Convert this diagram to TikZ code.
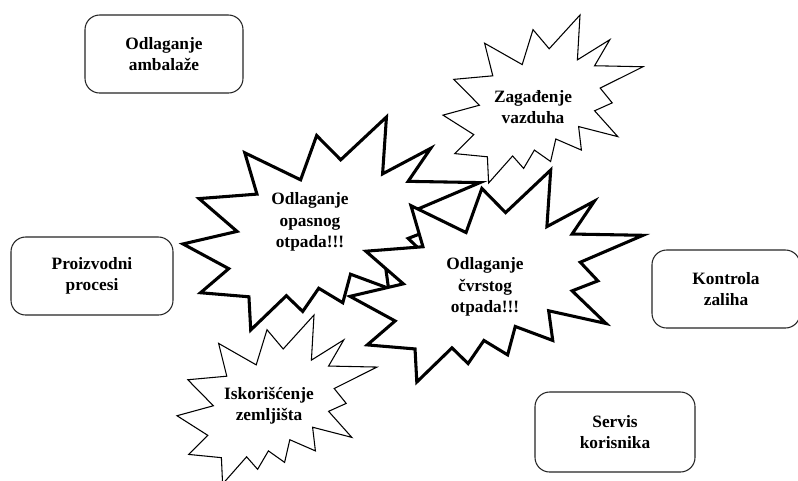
\documentclass[tikz,border=0pt]{standalone}
\usepackage{fontspec}
\setmainfont{Liberation Serif}
\begin{document}
\begin{tikzpicture}[x=0.75pt,y=-0.75pt,
  seal/.pic={\path[pic actions] (0.531,0.201) -- (0.685,0) -- (0.672,0.267) -- (0.834,0.147) -- (0.758,0.302) -- (1,0.308) -- (0.786,0.435) -- (0.846,0.523) -- (0.758,0.570) -- (0.874,0.724) -- (0.678,0.664) -- (0.692,0.804) -- (0.564,0.738) -- (0.538,0.872) -- (0.457,0.804) -- (0.403,0.913) -- (0.348,0.839) -- (0.228,1) -- (0.222,0.844) -- (0.059,0.825) -- (0.154,0.712) -- (0,0.596) -- (0.182,0.537) -- (0.054,0.383) -- (0.249,0.362) -- (0.208,0.168) -- (0.396,0.295) -- (0.450,0.087) -- cycle;},
  thinstar/.style={draw=black, fill=white, line width=0.8pt, line join=miter},
  thickstar/.style={draw=black, fill=white, line width=2.3pt, line join=miter},
  lbl/.style={font=\fontsize{13}{16}\selectfont\bfseries, align=center, inner sep=0pt},
  box/.style={draw=black!85, line width=0.8pt, rounded corners=11pt, fill=white, align=center,
    font=\fontsize{13}{16}\selectfont\bfseries, inner sep=0pt}]
\useasboundingbox (0,0) rectangle (798,480);
\clip (0,0) rectangle (798,480);
\fill[white] (0,0) rectangle (798,480);

% rounded boxes
\node[box, minimum width=118.5pt, minimum height=58.5pt] (amb) at (164,54) {Odlaganje\\ambala\v{z}e};
\node[box, minimum width=121.5pt, minimum height=58.5pt] (proc) at (92,276) {Proizvodni\\procesi};
\node[box, minimum width=111pt, minimum height=58.5pt] (kon) at (726,289) {Kontrola\\zaliha};
\node[box, minimum width=120pt, minimum height=60pt] (serv) at (615,432) {Servis\\korisnika};

% thin stars
\pic[thinstar, xscale=200, yscale=168] at (443,15) {seal};
\pic[thinstar, xscale=200, yscale=169] at (177,315) {seal};
% thick stars
\pic[thickstar, xscale=297, yscale=213] at (183,117) {seal};
\pic[thickstar, xscale=293, yscale=212] at (350,170) {seal};

% star labels
\node[lbl] (zag) at (533,107) {Zaga\dj enje\\vazduha};
\node[lbl] (isk) at (269,406) {Iskori\v{s}\'{c}enje\\zemlji\v{s}ta};
\node[lbl] (opa) at (310,222) {Odlaganje\\opasnog\\otpada!!!};
\node[lbl] (cvr) at (485,287) {Odlaganje\\\v{c}vrstog\\otpada!!!};
\end{tikzpicture}
\end{document}
